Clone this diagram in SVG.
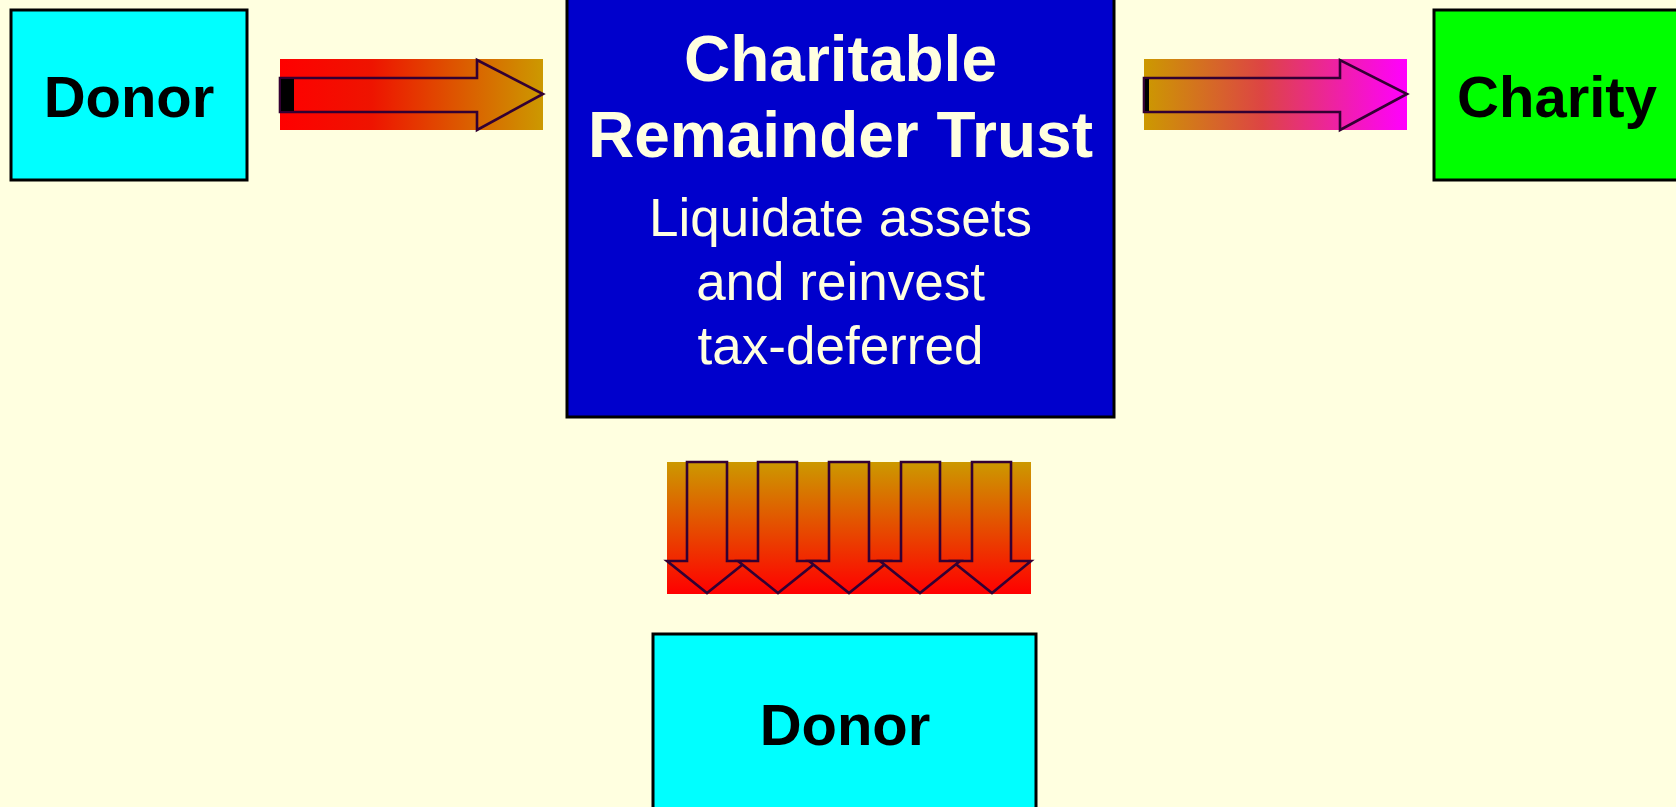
<svg xmlns="http://www.w3.org/2000/svg" width="1676" height="807" viewBox="0 0 1676 807">
<style>
.box{stroke:#000;stroke-width:3}
.lbl{font-family:"Liberation Sans",Arial,sans-serif;font-weight:bold;text-anchor:middle;fill:#000}
.wt{font-family:"Liberation Sans",Arial,sans-serif;text-anchor:middle;fill:#FFFFE0}
.arr{stroke:#330033;stroke-width:2.6;stroke-linejoin:miter}
</style>
<defs>
<linearGradient id="g1" gradientUnits="userSpaceOnUse" x1="280" y1="0" x2="543" y2="0"><stop offset="0" stop-color="#FF0000"/><stop offset="0.35" stop-color="#EE1400"/><stop offset="1" stop-color="#CC9900"/></linearGradient>
<linearGradient id="g2" gradientUnits="userSpaceOnUse" x1="1144" y1="0" x2="1407" y2="0"><stop offset="0" stop-color="#CC9900"/><stop offset="0.45" stop-color="#DD4444"/><stop offset="1" stop-color="#FF00FF"/></linearGradient>
<linearGradient id="g3" gradientUnits="userSpaceOnUse" x1="0" y1="462" x2="0" y2="594"><stop offset="0" stop-color="#CC9900"/><stop offset="1" stop-color="#FF0000"/></linearGradient>
</defs>
<rect width="1676" height="807" fill="#FFFFE0"/>
<g id="connectors">
<g id="arrow-donor-trust">
<rect x="280" y="59" width="263" height="71" fill="url(#g1)"/>
<polygon class="arr" fill="none" points="280,78 477,78 477,60 543,94 477,130 477,112 280,112"/>
<rect x="281" y="79" width="13" height="32" fill="#000"/>
</g>
<g id="arrow-trust-charity">
<rect x="1144" y="59" width="263" height="71" fill="url(#g2)"/>
<polygon class="arr" fill="none" points="1144,78 1340,78 1340,60 1407,94 1340,130 1340,112 1144,112"/>
<rect x="1145" y="79" width="4" height="32" fill="#000"/>
</g>
<g id="arrows-trust-donor">
<rect x="667" y="462" width="364" height="132" fill="url(#g3)"/>
<polygon class="arr" fill="url(#g3)" points="972,462 1011,462 1011,561 1031,561 992,593 952,561 972,561"/>
<polygon class="arr" fill="url(#g3)" points="687,462 727,462 727,561 747,561 707,593 667,561 687,561"/>
<polygon class="arr" fill="url(#g3)" points="758,462 797,462 797,561 818,561 778,593 738,561 758,561"/>
<polygon class="arr" fill="url(#g3)" points="829,462 869,462 869,561 889,561 849,593 809,561 829,561"/>
<polygon class="arr" fill="url(#g3)" points="901,462 940,462 940,561 960,561 920,593 880,561 901,561"/>
</g>
</g>
<g id="donor-top">
<rect class="box" x="11" y="10" width="236" height="170" fill="#00FFFF"/>
<text class="lbl" x="129" y="117" font-size="58">Donor</text>
</g>
<g id="trust">
<rect class="box" x="567" y="-5" width="547" height="422" fill="#0000CC"/>
<text class="wt" x="840.5" y="81" font-size="64" font-weight="bold">Charitable</text>
<text class="wt" x="840.5" y="157" font-size="64" font-weight="bold">Remainder Trust</text>
<text class="wt" x="840.5" y="236" font-size="53">Liquidate assets</text>
<text class="wt" x="840.5" y="300" font-size="53">and reinvest</text>
<text class="wt" x="840.5" y="364" font-size="53">tax-deferred</text>
</g>
<g id="charity">
<rect class="box" x="1434" y="10" width="246" height="170" fill="#00FF00"/>
<text class="lbl" x="1557" y="117" font-size="58">Charity</text>
</g>
<g id="donor-bottom">
<rect class="box" x="653" y="634" width="383" height="180" fill="#00FFFF"/>
<text class="lbl" x="845" y="745" font-size="58">Donor</text>
</g>
</svg>
